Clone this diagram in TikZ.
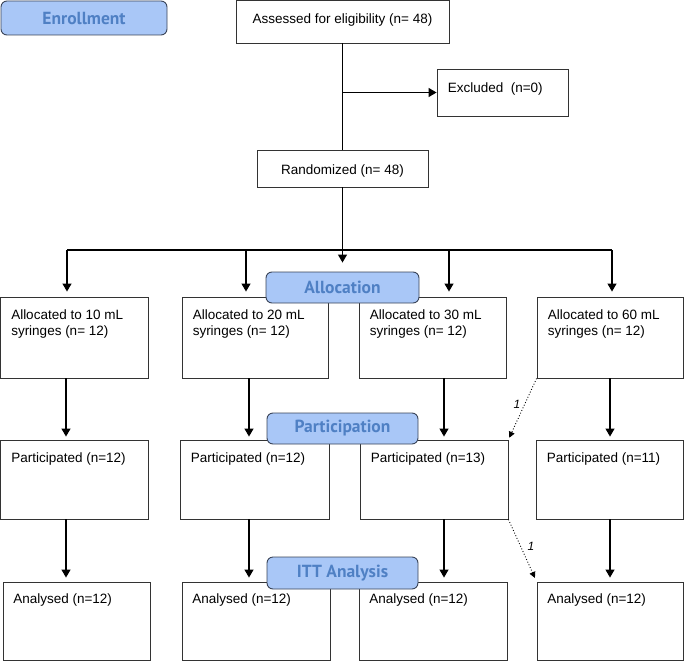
\documentclass[tikz,border=0pt]{standalone}
\usepackage{fontspec}
\setmainfont{Liberation Sans}
\newfontfamily\hdfont{PT Sans}
\usetikzlibrary{arrows.meta}
\definecolor{hdfill}{HTML}{A9C7F7}
\definecolor{hdtext}{HTML}{4F80C4}
\definecolor{hdline}{HTML}{3A4458}
\newcommand\mybox[5]{%
  \node[box, minimum width={(#4)-(#2)}, minimum height={(#5)-(#3)}] (#1) at ({((#2)+(#4))/2},{((#3)+(#5))/2}) {};}
\begin{document}
\begin{tikzpicture}[x=1pt,y=-1pt,
  box/.style={draw=black!80, line width=0.9pt, inner sep=0pt},
  hd/.style={draw=hdline, fill=hdfill, rounded corners=6pt, line width=0.9pt, text=hdtext,
    font=\hdfont\bfseries\fontsize{17.5}{19}\selectfont, inner sep=0pt},
  txt/.style={anchor=base west, inner sep=0pt, font=\fontsize{13.5}{15.5}\selectfont},
  ctxt/.style={anchor=base, inner sep=0pt, font=\fontsize{13.5}{15.5}\selectfont},
  arr/.style={line width=1.2pt, -{Triangle[length=8pt,width=9pt]}},
  ln/.style={line width=1.2pt},
  dotarr/.style={dotted, line width=0.9pt, -{Triangle[length=6pt,width=6pt]}},
  one/.style={inner sep=0pt, font=\itshape\fontsize{12}{14}\selectfont}]
\useasboundingbox (0,0) rectangle (685,661);

% top part
\mybox{assess}{236}{0.5}{449}{43}
\mybox{excl}{437}{69}{568}{116}
\mybox{rand}{257}{150}{428}{187}
\node[ctxt] (tassess) at (342.5,24) {Assessed for eligibility (n= 48)};
\node[txt] (texcl) at ([shift={(11,24)}]excl.north west) {Excluded\ \ (n=0)};
\node[ctxt] (trand) at (342.5,174) {Randomized (n= 48)};

% allocated
\mybox{a1}{0.5}{297}{148}{378}
\mybox{a2}{182}{297}{328}{378}
\mybox{a3}{359}{297}{506}{378}
\mybox{a4}{537}{297}{683}{378}
% participated
\mybox{p1}{0.5}{440}{148}{519}
\mybox{p2}{180}{440}{329}{519}
\mybox{p3}{360}{440}{508}{519}
\mybox{p4}{536}{440}{683}{519}
% analysed
\mybox{n1}{3}{582}{150}{660}
\mybox{n2}{182}{582}{330}{660}
\mybox{n3}{359}{582}{507}{660}
\mybox{n4}{537}{582}{683}{660}

\foreach \b/\v in {a1/10,a2/20,a3/30,a4/60}{
  \node[txt] (t\b) at ([shift={(11,23)}]\b.north west)
    {\begin{tabular}[t]{@{}l@{}}Allocated to \v{} mL\\syringes (n= 12)\end{tabular}};
}
\node[txt] (tp1) at ([shift={(11,23)}]p1.north west) {Participated (n=12)};
\node[txt] (tp2) at ([shift={(11,23)}]p2.north west) {Participated (n=12)};
\node[txt] (tp3) at ([shift={(11,23)}]p3.north west) {Participated (n=13)};
\node[txt] (tp4) at ([shift={(11,23)}]p4.north west) {Participated (n=11)};
\foreach \b in {n1,n2,n3,n4}{
  \node[txt] (t\b) at ([shift={(10.5,22)}]\b.north west) {Analysed (n=12)};
}

% headers
\node[hd, minimum width=166, minimum height=34] (enrol) at (84,18) {Enrollment};
\node[hd, minimum width=153, minimum height=31] (alloc) at (342.5,287.5) {Allocation};
\node[hd, minimum width=151, minimum height=31] (partic) at (342.5,428.5) {Participation};
\node[hd, minimum width=151, minimum height=32] (itt) at (342.5,573) {ITT Analysis};

% connectors top
\draw[ln] (assess) -- (rand);
\draw[arr] (assess.south |- excl.west) -- (excl.west);
\draw[ln] (rand.south) -- ++(0,63) coordinate (hub);
\coordinate (h1) at (67,250);
\coordinate (h2) at (246,250);
\coordinate (h3) at (449,250);
\coordinate (h4) at (612,250);
\draw[ln] (h1) -- (h4);
\draw[arr, shorten >=5pt] (h1) -- (h1 |- a1.north);
\draw[arr, shorten >=5pt] (h2) -- (h2 |- a2.north);
\draw[arr, shorten >=5pt] (h3) -- (h3 |- a3.north);
\draw[arr, shorten >=5pt] (h4) -- (h4 |- a4.north);
\draw[arr, shorten >=9pt] (hub) -- (hub |- alloc.north);

% columns
\coordinate (c1) at (66,0);
\coordinate (c2) at (249,0);
\coordinate (c3) at (444,0);
\coordinate (c4) at (610,0);
\draw[arr, shorten >=3pt] (a1.south -| c1) -- (p1.north -| c1);
\draw[arr, shorten >=3pt] (a2.south -| c2) -- (p2.north -| c2);
\draw[arr, shorten >=3pt] (a3.south -| c3) -- (p3.north -| c3);
\draw[arr, shorten >=3pt] (a4.south -| c4) -- (p4.north -| c4);
\draw[arr, shorten >=4pt] (p1.south -| c1) -- (n1.north -| c1);
\draw[arr, shorten >=4pt] (p2.south -| c2) -- (n2.north -| c2);
\draw[arr, shorten >=4pt] (p3.south -| c3) -- (n3.north -| c3);
\draw[arr, shorten >=4pt] (p4.south -| c4) -- (n4.north -| c4);

% dotted transfers
\draw[dotarr, shorten >=2pt] (a4.south west) -- (p3.north east);
\draw[dotarr, shorten >=4pt] (p3.south east) -- (n4.north west);
\node[one] (o1) at (517,404) {1};
\node[one] (o2) at (531,546) {1};
\end{tikzpicture}
\end{document}
